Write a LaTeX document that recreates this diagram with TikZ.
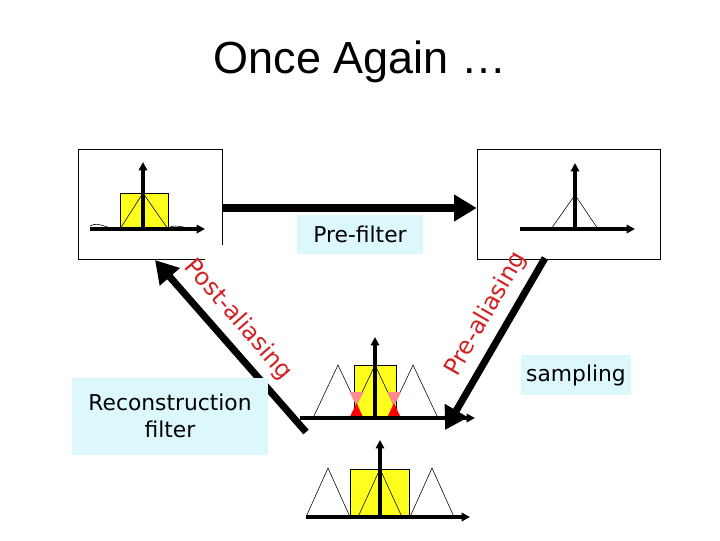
\documentclass[tikz,border=0pt]{standalone}
\usepackage{fontspec}
\setmainfont{DejaVu Sans}
\newfontfamily\titlefont{Liberation Sans}
\usetikzlibrary{arrows.meta,calc}
\definecolor{lcyan}{HTML}{DDF8FC}
\definecolor{sigyel}{HTML}{FFFF1E}
\definecolor{alred}{HTML}{D42020}
\tikzset{
  panel/.style={draw,thin},
  lbl/.style={fill=lcyan,font=\fontsize{15.5}{19}\selectfont,inner sep=4pt},
  bigarr/.style={line width=5pt,-{Triangle[length=16pt,width=18pt]}},
  axis/.style={line width=2.2pt,-{Triangle[length=6pt,width=6pt]}},
  tri/.style={draw,thin,fill=white},
  rot/.style={text=alred,font=\fontsize{17}{19}\selectfont}
}
\begin{document}
\begin{tikzpicture}[x=0.025cm,y=-0.025cm]
            \useasboundingbox (0,0) rectangle (720,540);
            \node[font=\titlefont\fontsize{32}{36}\selectfont] (title) at (360,62) {Once Again \dots};
            % spectrum boxes
            \node[panel,minimum width=144*0.025cm,minimum height=110*0.025cm] (orig) at (150,204) {};
            \node[panel,minimum width=183*0.025cm,minimum height=110*0.025cm] (filt) at (568.5,204) {};
            \fill[white] (205,245) rectangle (224,262);
            % original spectrum
            \draw[thin] (90,226) .. controls (100,220) and (110,232) .. (120,228);
            \draw[thin] (168,228) .. controls (178,222) and (190,232) .. (200,227);
            \fill[sigyel,draw=black,thin] (120,193) rectangle (168,229);
            \draw[thin] (120,229) -- (143,193) -- (168,229);
            \draw[axis] (90,229) -- (205,229);
            \draw[axis] (143,229) -- (143,162);
            % filtered spectrum
            \draw[thin] (551,229) -- (575,195) -- (598,229);
            \draw[axis] (520,229) -- (635,229);
            \draw[axis] (575,229) -- (575,163);
            % sampled spectrum
            \foreach \c in {338,413} \draw[tri] (\c-25,418) -- (\c,365) -- (\c+25,418);
            \fill[sigyel,draw=black,thin] (354,365) rectangle (396,418);
            \draw[thin] (350,418) -- (375,365) -- (400,418);
            \foreach \c in {356.5,394} {
              \fill[red!45] (\c-7,392) -- (\c+7,392) -- (\c,406) -- cycle;
              \fill[red] (\c-7,418) -- (\c,403) -- (\c+7,418) -- cycle;
            }
            \draw[axis] (300,418) -- (475,418);
            \draw[axis] (375,418) -- (375,337);
            % reconstructed spectrum
            \foreach \c in {328,432} \draw[tri] (\c-22,517) -- (\c,468) -- (\c+22,517);
            \fill[sigyel,draw=black,thin] (350,469) rectangle (409,517);
            \draw[thin] (358,517) -- (380,469) -- (402,517);
            \draw[axis] (306,517) -- (470,517);
            \draw[axis] (380,517) -- (380,440);
            % arrows between stages
            \coordinate (top1) at (orig.east |- 0,208);
            \coordinate (top2) at (filt.west |- 0,208);
            \coordinate (post1) at (306,432);
            \coordinate (post2) at (155,260);
            \coordinate (pre1) at (545,258);
            \coordinate (pre2) at (445,430);
            \draw[bigarr] (top1) -- (top2);
            \draw[bigarr] (post1) -- (post2);
            \draw[bigarr] (pre1) -- (pre2);
            % labels
            \node[lbl,minimum width=126*0.025cm,minimum height=39*0.025cm] (prefilter) at (360,234) {Pre-filter};
            \node[lbl,align=center,minimum width=196*0.025cm,minimum height=77*0.025cm] (recon) at (170,416) {Reconstruction\\filter};
            \node[lbl,minimum width=108*0.025cm,minimum height=40*0.025cm] (sampling) at (576,375) {sampling};
            \node[rot,rotate=-49] (postal) at (238,320) {Post-aliasing};
            \node[rot,rotate=60] (preal) at (486,314) {Pre-aliasing};
\end{tikzpicture}
\end{document}
